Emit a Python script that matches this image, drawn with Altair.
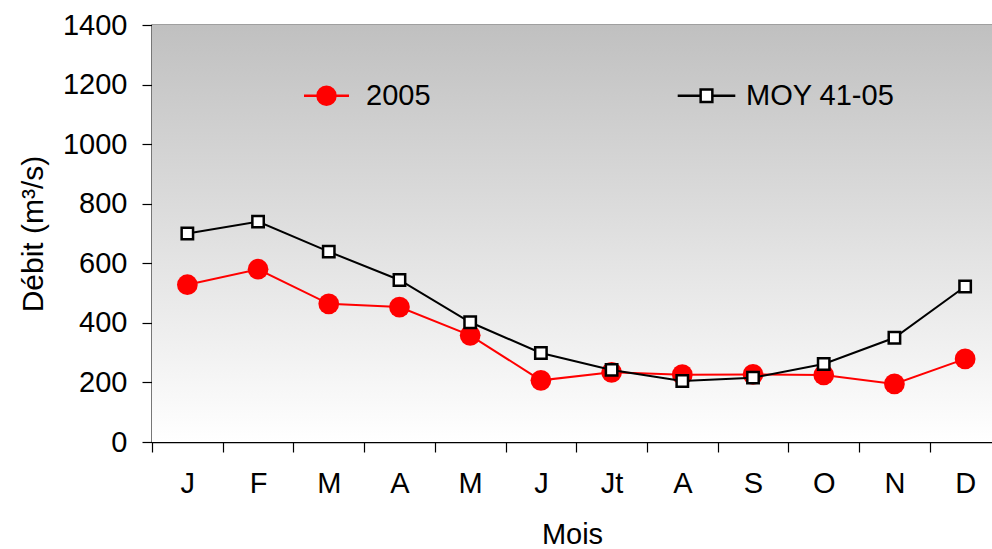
import json
import altair as alt
import pandas as pd

months = ["J", "F", "M", "A", "M", "J", "Jt", "A", "S", "O", "N", "D"]
series_names = ["2005", "MOY 41-05"]
debit_2005 = [528, 580, 464, 453, 358, 207, 234, 226, 227, 225, 195, 279]
debit_moy = [700, 740, 639, 544, 402, 299, 242, 205, 216, 262, 350, 522]
y_ticks = [0, 200, 400, 600, 800, 1000, 1200, 1400]

rows = []
for i, m in enumerate(months):
    rows.append({"pos": i + 0.5, "mois": m, "serie": series_names[0], "debit": debit_2005[i]})
    rows.append({"pos": i + 0.5, "mois": m, "serie": series_names[1], "debit": debit_moy[i]})
df = pd.DataFrame(rows)

FONT = "Liberation Sans"
W, H = 840, 417
FS = 29

x_vals = [i * 0.5 for i in range(2 * len(months))]
label_expr = "datum.value % 1 === 0 ? '' : " + json.dumps(months) + "[floor(datum.value)]"

x_enc = alt.X(
    "pos:Q",
    scale=alt.Scale(domain=[0, 11.88], nice=False, zero=False),
    axis=alt.Axis(
        values=x_vals,
        labelExpr=label_expr,
        tickOpacity={"condition": {"test": "datum.value % 1 === 0", "value": 1}, "value": 0},
        grid=False,
        tickSize=10,
        tickColor="#000000",
        tickWidth=1.2,
        domainColor="#000000",
        domainWidth=1.5,
        labelFont=FONT,
        labelFontSize=FS,
        labelColor="#000000",
        labelPadding=17,
        labelOverlap=False,
        labelFlush=False,
        labelBound=False,
        title="Mois",
        titleFont=FONT,
        titleFontSize=FS,
        titleFontWeight="normal",
        titleColor="#000000",
        titlePadding=22,
    ),
)

y_enc = alt.Y(
    "debit:Q",
    scale=alt.Scale(domain=[0, 1400], nice=False),
    axis=alt.Axis(
        values=y_ticks,
        format="d",
        grid=False,
        tickSize=10,
        tickColor="#000000",
        tickWidth=1.2,
        domainColor="#000000",
        domainWidth=1.5,
        labelFont=FONT,
        labelFontSize=FS,
        labelColor="#000000",
        labelPadding=15,
        title="Débit (m³/s)",
        titleFont=FONT,
        titleFontSize=30,
        titleFontWeight="normal",
        titleColor="#000000",
        titlePadding=14,
    ),
)

base = alt.Chart(df)

gradient = alt.LinearGradient(
    gradient="linear",
    x1=0, x2=0, y1=0, y2=1,
    stops=[alt.GradientStop(color="#c0c0c0", offset=0), alt.GradientStop(color="#ffffff", offset=1)],
)
bg = alt.Chart(pd.DataFrame({"k": [0]})).mark_rect(color=gradient).encode(
    x=alt.value(0), x2=alt.value(W), y=alt.value(0), y2=alt.value(H)
)

red_line = base.transform_filter(alt.datum.serie == series_names[0]).mark_line(
    color="#ff0000", strokeWidth=2
).encode(x=x_enc, y=y_enc)
red_pts = base.transform_filter(alt.datum.serie == series_names[0]).mark_point(
    shape="circle", filled=True, color="#ff0000", size=430, opacity=1
).encode(x=x_enc, y=y_enc)
blk_line = base.transform_filter(alt.datum.serie == series_names[1]).mark_line(
    color="#000000", strokeWidth=2
).encode(x=x_enc, y=y_enc)
blk_pts = base.transform_filter(alt.datum.serie == series_names[1]).mark_point(
    shape="square", filled=False, fill="#ffffff", stroke="#000000", strokeWidth=2.5, size=130, opacity=1
).encode(x=x_enc, y=y_enc)

circle_path = "M-2.5,0H-1M1,0H2.5M-1,0A1,1 0 1,0 1,0A1,1 0 1,0 -1,0Z"
square_path = "M-3.2,0H-0.65M0.65,0H3.2M-0.65,-0.7H0.65V0.7H-0.65Z"

leg = alt.Legend(
    title=None,
    orient="none",
    legendX=160,
    legendY=56,
    direction="horizontal",
    columns=2,
    columnPadding=241,
    symbolSize=324,
    symbolStrokeWidth=2.5,
    symbolOpacity=1,
    labelFont=FONT,
    labelFontSize=FS,
    labelColor="#000000",
    labelOffset=25,
    labelLimit=400,
    padding=0,
)

legend_layer = base.transform_filter("false").mark_point(filled=False, strokeWidth=2.5, opacity=1).encode(
    x=x_enc,
    y=y_enc,
    shape=alt.Shape("serie:N", scale=alt.Scale(domain=series_names, range=[circle_path, square_path]), legend=leg),
    color=alt.Color("serie:N", scale=alt.Scale(domain=series_names, range=["#ff0000", "#000000"]), legend=leg),
    fill=alt.Fill("serie:N", scale=alt.Scale(domain=series_names, range=["#ff0000", "#ffffff"]), legend=leg),
)

chart = (
    alt.layer(bg, red_line, red_pts, blk_line, blk_pts, legend_layer)
    .properties(
        width=W,
        height=H,
        autosize=alt.AutoSizeParams(type="none"),
        padding={"left": 152, "top": 25, "right": 0, "bottom": 107},
        background="#ffffff",
    )
    .configure_view(stroke="#808080", strokeWidth=1.5)
)

chart.save("out.html", embed_options={"renderer": "svg", "actions": False})
